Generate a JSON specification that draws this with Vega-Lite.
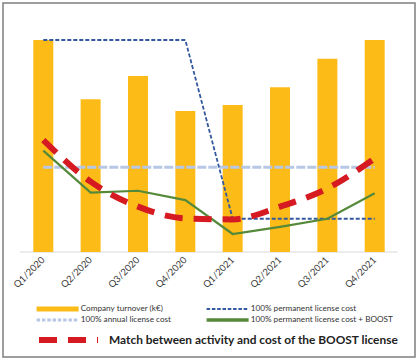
{
  "$schema": "https://vega.github.io/schema/vega-lite/v6.json",
  "width": 412,
  "height": 354,
  "autosize": "none",
  "padding": {"left": 3, "top": 3, "right": 5, "bottom": 5},
  "background": "white",
  "config": {
    "view": {"stroke": "#7f7f7f", "strokeWidth": 1.5},
    "font": "Lato"
  },
  "datasets": {
    "bars": [
      {"q": "Q1/2020", "series": "Company turnover (k€)", "v": 100},
      {"q": "Q2/2020", "series": "Company turnover (k€)", "v": 72},
      {"q": "Q3/2020", "series": "Company turnover (k€)", "v": 83},
      {"q": "Q4/2020", "series": "Company turnover (k€)", "v": 66.5},
      {"q": "Q1/2021", "series": "Company turnover (k€)", "v": 69.3},
      {"q": "Q2/2021", "series": "Company turnover (k€)", "v": 77.7},
      {"q": "Q3/2021", "series": "Company turnover (k€)", "v": 91.2},
      {"q": "Q4/2021", "series": "Company turnover (k€)", "v": 100}
    ],
    "annual": [
      {"q": "Q1/2020", "series": "100% annual license cost", "v": 40},
      {"q": "Q2/2020", "series": "100% annual license cost", "v": 40},
      {"q": "Q3/2020", "series": "100% annual license cost", "v": 40},
      {"q": "Q4/2020", "series": "100% annual license cost", "v": 40},
      {"q": "Q1/2021", "series": "100% annual license cost", "v": 40},
      {"q": "Q2/2021", "series": "100% annual license cost", "v": 40},
      {"q": "Q3/2021", "series": "100% annual license cost", "v": 40},
      {"q": "Q4/2021", "series": "100% annual license cost", "v": 40}
    ],
    "perm": [
      {"q": "Q1/2020", "series": "100% permanent license cost", "v": 100},
      {"q": "Q2/2020", "series": "100% permanent license cost", "v": 100},
      {"q": "Q3/2020", "series": "100% permanent license cost", "v": 100},
      {"q": "Q4/2020", "series": "100% permanent license cost", "v": 100},
      {"q": "Q1/2021", "series": "100% permanent license cost", "v": 15.7},
      {"q": "Q2/2021", "series": "100% permanent license cost", "v": 15.7},
      {"q": "Q3/2021", "series": "100% permanent license cost", "v": 15.7},
      {"q": "Q4/2021", "series": "100% permanent license cost", "v": 15.7}
    ],
    "boost": [
      {"q": "Q1/2020", "series": "100% permanent license cost + BOOST", "v": 47.8},
      {"q": "Q2/2020", "series": "100% permanent license cost + BOOST", "v": 28},
      {"q": "Q3/2020", "series": "100% permanent license cost + BOOST", "v": 28.9},
      {"q": "Q4/2020", "series": "100% permanent license cost + BOOST", "v": 24.5},
      {"q": "Q1/2021", "series": "100% permanent license cost + BOOST", "v": 8.5},
      {"q": "Q2/2021", "series": "100% permanent license cost + BOOST", "v": 11.9},
      {"q": "Q3/2021", "series": "100% permanent license cost + BOOST", "v": 15.7},
      {"q": "Q4/2021", "series": "100% permanent license cost + BOOST", "v": 27.7}
    ],
    "match": [
      {"q": "Q1/2020", "series": "Match between activity and cost of the BOOST license", "v": 52.8},
      {"q": "Q2/2020", "series": "Match between activity and cost of the BOOST license", "v": 33.2},
      {"q": "Q3/2020", "series": "Match between activity and cost of the BOOST license", "v": 21.4},
      {"q": "Q4/2020", "series": "Match between activity and cost of the BOOST license", "v": 15.9},
      {"q": "Q1/2021", "series": "Match between activity and cost of the BOOST license", "v": 15.4},
      {"q": "Q2/2021", "series": "Match between activity and cost of the BOOST license", "v": 21.4},
      {"q": "Q3/2021", "series": "Match between activity and cost of the BOOST license", "v": 30},
      {"q": "Q4/2021", "series": "Match between activity and cost of the BOOST license", "v": 44.2}
    ],
    "base": [
      {"a": "Q1/2020", "b": "Q4/2021", "v": 0}
    ]
  },
  "encoding": {
    "x": {
      "field": "q",
      "type": "nominal",
      "sort": null,
      "scale": {
        "domain": ["Q1/2020", "Q2/2020", "Q3/2020", "Q4/2020", "Q1/2021", "Q2/2021", "Q3/2021", "Q4/2021"],
        "paddingInner": 0.578,
        "paddingOuter": 0.64
      },
      "axis": {
        "title": null,
        "offset": -105,
        "domain": false,
        "ticks": false,
        "labelAngle": -45,
        "labelAlign": "right",
        "labelBaseline": "middle",
        "labelFontSize": 9.5,
        "labelColor": "#404040",
        "labelPadding": 6
      }
    },
    "y": {
      "field": "v",
      "type": "quantitative",
      "scale": {"domain": [-49.5, 117.45], "nice": false, "zero": false},
      "axis": null
    }
  },
  "layer": [
    {
      "data": {"name": "base"},
      "mark": {"type": "rule", "color": "#d9d9d9", "strokeWidth": 1},
      "encoding": {
        "x": {"field": "a", "type": "nominal", "bandPosition": -0.665},
        "x2": {"field": "b", "bandPosition": 1.645},
        "y": {"field": "v", "type": "quantitative"}
      }
    },
    {
      "data": {"name": "bars"},
      "mark": {"type": "bar"},
      "encoding": {
        "y2": {"datum": 0},
        "color": {
          "field": "series",
          "type": "nominal",
          "scale": {
            "domain": ["Company turnover (k€)", "100% annual license cost", "100% permanent license cost", "100% permanent license cost + BOOST"],
            "range": ["#fdbb17", "#b7c8e6", "#34589f", "#55893a"]
          },
          "legend": {
            "title": null,
            "orient": "none",
            "legendX": 29.5,
            "legendY": 300.5,
            "columns": 2,
            "columnPadding": 31,
            "rowPadding": 0,
            "padding": 0,
            "clipHeight": 11,
            "symbolType": "M0,0H8.4",
            "symbolSize": 100,
            "symbolStrokeWidth": 4,
            "symbolOffset": 0,
            "labelFontSize": 8.2,
            "labelColor": "#333333",
            "labelOffset": 40,
            "labelLimit": 300,
            "encode": {
              "symbols": {
                "update": {
                  "fill": {"value": "transparent"},
                  "stroke": {"scale": "color", "field": "value"},
                  "strokeWidth": {"signal": "datum.value === 'Company turnover (k€)' ? 5 : datum.value === '100% permanent license cost' ? 2 : datum.value === '100% annual license cost' ? 3 : 3.5"},
                  "strokeDash": {"signal": "datum.value === '100% permanent license cost' ? [3.5, 1.8] : datum.value === '100% annual license cost' ? [3.5, 1.8] : [1, 0]"}
                }
              }
            }
          }
        }
      }
    },
    {
      "data": {"name": "annual"},
      "mark": {"type": "line", "strokeWidth": 3.2, "strokeDash": [9, 2]},
      "encoding": {"color": {"field": "series", "type": "nominal"}}
    },
    {
      "data": {"name": "perm"},
      "mark": {"type": "line", "strokeWidth": 1.8, "strokeDash": [4, 2]},
      "encoding": {"color": {"field": "series", "type": "nominal"}}
    },
    {
      "data": {"name": "boost"},
      "mark": {"type": "line", "strokeWidth": 2.2},
      "encoding": {"color": {"field": "series", "type": "nominal"}}
    },
    {
      "data": {"name": "match"},
      "mark": {"type": "line", "stroke": "#d51a21", "strokeWidth": 6, "interpolate": "monotone", "strokeCap": "butt"},
      "encoding": {
        "strokeDash": {
          "field": "series",
          "type": "nominal",
          "scale": {"range": [[18, 11]]},
          "legend": {
            "title": null,
            "orient": "none",
            "legendX": 28,
            "legendY": 330,
            "padding": 0,
            "clipHeight": 14,
            "symbolType": "M0,0H11.8",
            "symbolSize": 100,
            "symbolOffset": 0,
            "symbolStrokeColor": "#d51a21",
            "symbolStrokeWidth": 6,
            "labelFontSize": 11.9,
            "labelFontWeight": "bold",
            "labelColor": "#222222",
            "labelOffset": 62,
            "labelLimit": 400,
            "encode": {
              "symbols": {"update": {"strokeDash": {"value": [14, 8.5]}, "stroke": {"value": "#d51a21"}}}
            }
          }
        }
      }
    }
  ]
}
